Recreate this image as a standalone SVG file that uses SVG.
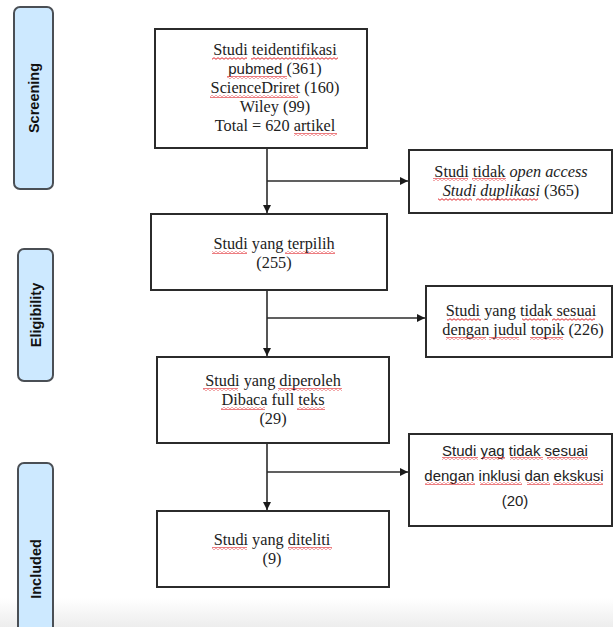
<svg xmlns="http://www.w3.org/2000/svg" width="613" height="627" viewBox="0 0 613 627">
<defs>
<style>
.box{fill:#fff;stroke:#2b2b2b;stroke-width:2}
.side{fill:#cde9ff;stroke:#4a4f55;stroke-width:2}
.t{font-family:"Liberation Serif","Times New Roman",serif;font-size:16.3px;fill:#222;text-anchor:middle}
.s{font-family:"Liberation Sans",Arial,sans-serif;font-size:15px;fill:#222;text-anchor:middle}
.lab{font-family:"Liberation Sans",Arial,sans-serif;font-size:14.5px;font-weight:bold;fill:#111;text-anchor:middle}
.c{stroke:#2b2b2b;stroke-width:1.6;fill:none}
.sq{fill:url(#wave)}
</style>
<pattern id="wave" x="0" y="0" width="4" height="3" patternUnits="userSpaceOnUse">
<path d="M0 2.3 L2 0.7 L4 2.3" fill="none" stroke="#e0252b" stroke-width="1"/>
</pattern>
<marker id="ah" viewBox="0 0 10 10" refX="10" refY="5" markerWidth="5" markerHeight="5" orient="auto" markerUnits="strokeWidth">
<path d="M0 0 L10 5 L0 10 z" fill="#1a1a1a"/>
</marker>
<linearGradient id="bot" x1="0" y1="0" x2="0" y2="1">
<stop offset="0" stop-color="#ffffff"/>
<stop offset="1" stop-color="#ededed"/>
</linearGradient>
</defs>
<rect x="0" y="0" width="613" height="627" fill="#fff"/>
<rect x="0" y="598" width="613" height="29" fill="url(#bot)"/>

<g id="screening">
<rect class="side" x="14" y="7" width="39" height="182" rx="6"/>
<text class="lab" transform="translate(38.5,98) rotate(-90)">Screening</text>
</g>
<g id="eligibility">
<rect class="side" x="18" y="249" width="35" height="132" rx="6"/>
<text class="lab" transform="translate(40.5,315) rotate(-90)">Eligibility</text>
</g>
<g id="included">
<rect class="side" x="18" y="463" width="35" height="170" rx="6"/>
<text class="lab" transform="translate(40.5,569) rotate(-90)">Included</text>
</g>

<g id="connectors">
<line class="c" x1="267" y1="149" x2="267" y2="213" marker-end="url(#ah)"/>
<line class="c" x1="267" y1="181" x2="408" y2="181" marker-end="url(#ah)"/>
<line class="c" x1="267" y1="290" x2="267" y2="356" marker-end="url(#ah)"/>
<line class="c" x1="267" y1="318" x2="425" y2="318" marker-end="url(#ah)"/>
<line class="c" x1="267" y1="444" x2="267" y2="510" marker-end="url(#ah)"/>
<line class="c" x1="267" y1="472" x2="408" y2="472" marker-end="url(#ah)"/>
</g>

<g id="identified">
<rect class="box" x="155" y="29" width="212" height="119"/>
<text class="t" x="275" y="55">Studi teidentifikasi</text>
<text class="t" x="275" y="74"><tspan font-family="Liberation Sans, Arial, sans-serif" font-size="15px">pubmed</tspan> (361)</text>
<text class="t" x="275" y="93">ScienceDriret (160)</text>
<text class="t" x="275" y="112">Wiley (99)</text>
<text class="t" x="275" y="131">Total = 620 artikel</text>
<rect class="sq" x="212" y="57" width="35" height="3"/>
<rect class="sq" x="251" y="57" width="87" height="3"/>
<rect class="sq" x="227" y="76" width="60" height="3"/>
<rect class="sq" x="210" y="95" width="88" height="3"/>
<rect class="sq" x="294" y="133" width="43" height="3"/>
</g>

<g id="excluded1">
<rect class="box" x="409" y="150" width="203" height="63"/>
<text class="t" x="511" y="177">Studi tidak <tspan font-style="italic">open access</tspan></text>
<text class="t" x="511" y="196" font-style="italic">Studi duplikasi <tspan font-style="normal"> (365)</tspan></text>
<rect class="sq" x="433" y="178" width="35" height="3"/>
<rect class="sq" x="472" y="178" width="34" height="3"/>
<rect class="sq" x="438" y="198" width="34" height="3"/>
<rect class="sq" x="476" y="198" width="62" height="3"/>
</g>

<g id="selected">
<rect class="box" x="151" y="214" width="236" height="76"/>
<text class="t" x="274" y="249">Studi yang terpilih</text>
<text class="t" x="274" y="268">(255)</text>
<rect class="sq" x="212" y="251" width="35" height="3"/>
<rect class="sq" x="285" y="251" width="50" height="3"/>
</g>

<g id="excluded2">
<rect class="box" x="426" y="286" width="186" height="71"/>
<text class="t" x="521" y="316" font-size="15.8px">Studi yang tidak sesuai</text>
<text class="t" x="523" y="335" font-size="15.8px">dengan judul topik (226)</text>
<rect class="sq" x="447" y="318" width="34" height="3"/>
<rect class="sq" x="522" y="318" width="26" height="3"/>
<rect class="sq" x="552" y="318" width="43" height="3"/>
<rect class="sq" x="446" y="337" width="40" height="3"/>
<rect class="sq" x="489" y="337" width="30" height="3"/>
<rect class="sq" x="530" y="337" width="33" height="3"/>
</g>

<g id="obtained">
<rect class="box" x="157" y="357" width="232" height="86"/>
<text class="t" x="273" y="386">Studi yang diperoleh</text>
<text class="t" x="273" y="405">Dibaca full teks</text>
<text class="t" x="273" y="424">(29)</text>
<rect class="sq" x="203" y="388" width="35" height="3"/>
<rect class="sq" x="278" y="388" width="64" height="3"/>
<rect class="sq" x="221" y="407" width="44" height="3"/>
<rect class="sq" x="297" y="407" width="28" height="3"/>
</g>

<g id="excluded3">
<rect class="box" x="409" y="434" width="203" height="92"/>
<text class="s" x="515" y="456">Studi yag tidak sesuai</text>
<text class="s" x="514" y="481">dengan inklusi dan ekskusi</text>
<text class="s" x="515" y="506">(20)</text>
<rect class="sq" x="442" y="457" width="36" height="3"/>
<rect class="sq" x="482" y="457" width="23" height="3"/>
<rect class="sq" x="510" y="457" width="33" height="3"/>
<rect class="sq" x="547" y="457" width="41" height="3"/>
<rect class="sq" x="425" y="482" width="50" height="3"/>
<rect class="sq" x="480" y="482" width="42" height="3"/>
<rect class="sq" x="527" y="482" width="23" height="3"/>
<rect class="sq" x="553" y="482" width="50" height="3"/>
</g>

<g id="studied">
<rect class="box" x="157" y="511" width="232" height="76"/>
<text class="t" x="272" y="545">Studi yang diteliti</text>
<text class="t" x="272" y="564">(9)</text>
<rect class="sq" x="212" y="547" width="35" height="3"/>
<rect class="sq" x="288" y="547" width="44" height="3"/>
</g>
</svg>
